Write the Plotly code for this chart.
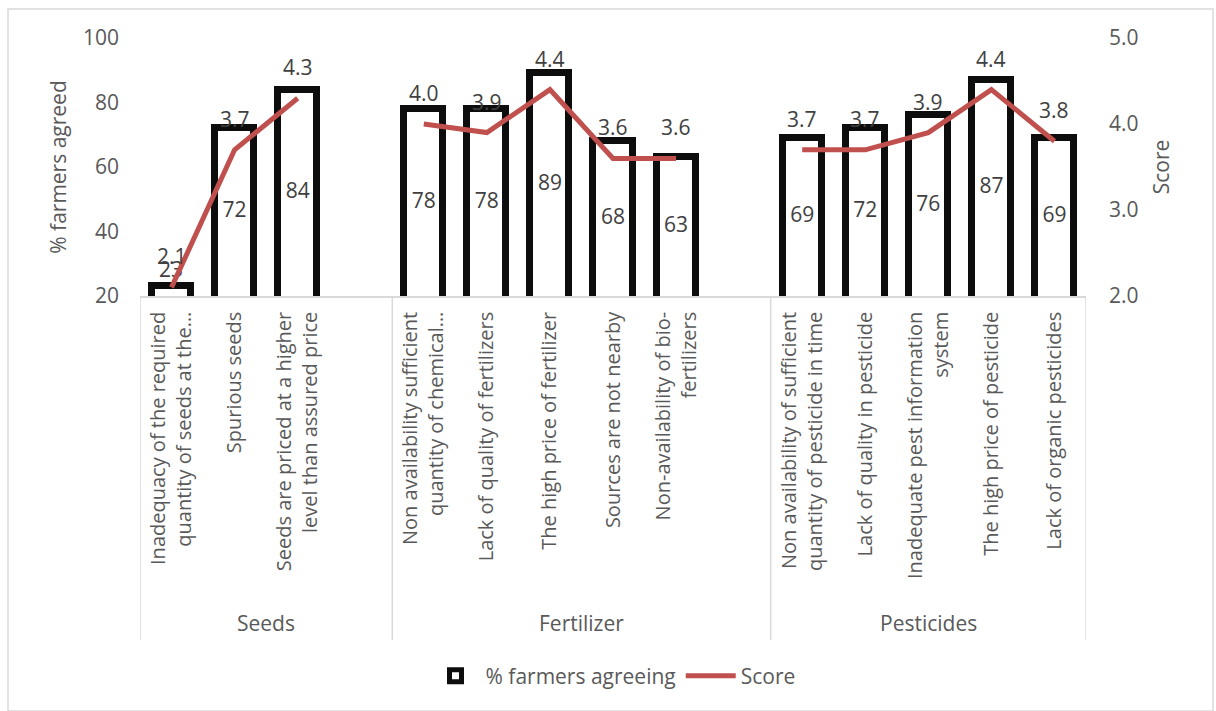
import plotly.graph_objects as go

# Constraint groups and their items
groups = ["Seeds", "Fertilizer", "Pesticides"]
seeds_items = [
    "Inadequacy of the required<br>quantity of seeds at the…",
    "Spurious seeds",
    "Seeds are priced at a higher<br>level than assured price",
]
fertilizer_items = [
    "Non availability sufficient<br>quantity of chemical…",
    "Lack of quality of fertilizers",
    "The high price of fertilizer",
    "Sources are not nearby",
    "Non-availability of bio-<br>fertilizers",
]
pesticide_items = [
    "Non availability of sufficient<br>quantity of pesticide in time",
    "Lack of quality in pesticide",
    "Inadequate pest information<br>system",
    "The high price of pesticide",
    "Lack of organic pesticides",
]

# % farmers agreeing
seeds_pct = [23, 72, 84]
fertilizer_pct = [78, 78, 89, 68, 63]
pesticide_pct = [69, 72, 76, 87, 69]

# Mean score
seeds_score = [2.1, 3.7, 4.3]
fertilizer_score = [4.0, 3.9, 4.4, 3.6, 3.6]
pesticide_score = [3.7, 3.7, 3.9, 4.4, 3.8]

group_items = [seeds_items, fertilizer_items, pesticide_items]
group_pct = [seeds_pct, fertilizer_pct, pesticide_pct]
group_score = [seeds_score, fertilizer_score, pesticide_score]

Y_MIN, Y_MAX = 20, 100
S_MIN, S_MAX = 2, 5

TEXT = "#595959"
LABEL = "#404040"
GRID = "#d9d9d9"
FONT = "Open Sans"
FS = 21

# Lay the items out on a slot axis, with one empty slot after each group
xs, labels, pct, line_x, line_y = [], [], [], [], []
group_spans = []
pos = 0
for gi, (items, p, s) in enumerate(zip(group_items, group_pct, group_score)):
    start = pos - 0.5
    for it, pv, sv in zip(items, p, s):
        xs.append(pos)
        labels.append(it)
        pct.append(pv)
        line_x.append(pos)
        line_y.append(sv)
        pos += 1
    if gi < len(groups) - 1:
        line_x.append(pos)
        line_y.append(None)
        pos += 1
    group_spans.append((start, pos - 0.5))

scores = [v for v in line_y if v is not None]

# value labels sit in the middle of the visible part of each bar;
# bars too short to hold one get it above instead
fits = [v - Y_MIN >= 8 for v in pct]

fig = go.Figure()
fig.add_trace(go.Bar(
    x=xs, y=pct, name="% farmers agreeing",
    width=0.62,
    marker=dict(color="white", line=dict(color="#0d0d0d", width=7)),
    text=["" if f else str(v) for v, f in zip(pct, fits)],
    textposition=["none" if f else "outside" for f in fits],
    outsidetextfont=dict(family=FONT, size=FS, color=LABEL),
    cliponaxis=False,
    yaxis="y",
))
fig.add_trace(go.Scatter(
    x=[x for x, f in zip(xs, fits) if f],
    y=[(Y_MIN + v) / 2 for v, f in zip(pct, fits) if f],
    text=[str(v) for v, f in zip(pct, fits) if f],
    mode="text", textposition="middle center",
    textfont=dict(family=FONT, size=FS, color=LABEL),
    showlegend=False, hoverinfo="skip", yaxis="y",
))
fig.add_trace(go.Scatter(
    x=line_x, y=line_y, name="Score", mode="lines",
    line=dict(color="#C0504D", width=5),
    connectgaps=False,
    yaxis="y2",
))

W, H = 1216, 711
L, R, T, B = 140, 130, 38, 415
pw, ph = W - L - R, H - T - B


def px_x(v):
    return (v - L) / pw


def px_y(v):
    return (H - B - v) / ph


annotations = []
for x, s in zip(xs, scores):
    annotations.append(dict(
        x=x, y=s, xref="x", yref="y2", text=f"{s:.1f}", showarrow=False,
        yanchor="middle", yshift=31,
        font=dict(family=FONT, size=FS, color=LABEL),
    ))
for g, (a, b) in zip(groups, group_spans):
    annotations.append(dict(
        x=(a + b) / 2, y=px_y(623), xref="x", yref="paper", text=g,
        showarrow=False, yanchor="middle",
        font=dict(family=FONT, size=FS, color=TEXT),
    ))

shapes = []
bounds = sorted({v for span in group_spans for v in span})
for bx in bounds:
    shapes.append(dict(
        type="line", xref="x", yref="paper", x0=bx, x1=bx,
        y0=0, y1=px_y(640), line=dict(color=GRID, width=1.5),
    ))
# chart frame
shapes.append(dict(
    type="rect", xref="paper", yref="paper",
    x0=px_x(8), x1=px_x(1213), y0=px_y(9), y1=px_y(711),
    line=dict(color=GRID, width=1.5), fillcolor="rgba(0,0,0,0)", layer="below",
))

fig.update_layout(
    width=W, height=H,
    margin=dict(l=L, r=R, t=T, b=B, autoexpand=False),
    paper_bgcolor="white", plot_bgcolor="white",
    font=dict(family=FONT, size=FS, color=TEXT),
    bargap=0,
    showlegend=True,
    legend=dict(
        orientation="h", x=0.5, xanchor="center", y=px_y(676), yanchor="middle",
        font=dict(family=FONT, size=FS, color=TEXT),
        itemwidth=50,
    ),
    xaxis=dict(
        range=[-0.5, pos - 0.5], tickmode="array", tickvals=xs, ticktext=labels,
        tickangle=-90, showgrid=False, zeroline=False,
        showline=True, linecolor=GRID, linewidth=1.5,
        ticks="", ticklabelstandoff=6,
        tickfont=dict(family=FONT, size=FS - 1, color=TEXT),
        automargin=False,
    ),
    yaxis=dict(
        range=[Y_MIN, Y_MAX], dtick=20, showgrid=False, zeroline=False, showline=False,
        ticks="", ticklabelstandoff=20,
        tickfont=dict(family=FONT, size=FS, color=TEXT),
        title=dict(text="% farmers agreed", standoff=10,
                   font=dict(family=FONT, size=FS, color=TEXT)),
        automargin=False,
    ),
    yaxis2=dict(
        range=[S_MIN, S_MAX], dtick=1, tickformat=".1f", overlaying="y", side="right",
        showgrid=False, zeroline=False, showline=False,
        ticks="", ticklabelstandoff=22,
        tickfont=dict(family=FONT, size=FS, color=TEXT),
        title=dict(text="Score", standoff=16,
                   font=dict(family=FONT, size=FS, color=TEXT)),
        automargin=False,
    ),
    annotations=annotations,
    shapes=shapes,
)

fig.write_html("out.html")
